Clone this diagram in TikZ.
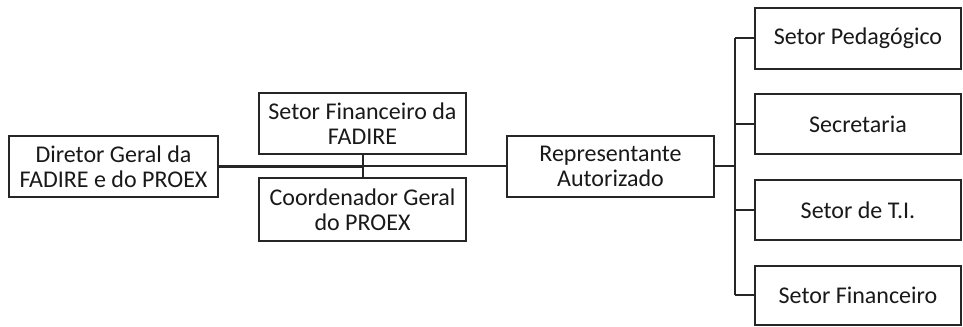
\documentclass[tikz,border=0pt]{standalone}
\usepackage{fontspec}
\setmainfont{Carlito}
\begin{document}
\begin{tikzpicture}[x=0.75pt,y=-0.75pt,
  box/.style={draw=black!85,line width=1.6pt,fill=white,inner sep=0pt,align=center,
    text=black!90,font=\fontsize{18}{19}\selectfont},
  conn/.style={draw=black!85,line width=1.5pt},
  thickconn/.style={draw=black!85,line width=2.6pt}]
\useasboundingbox (0,0) rectangle (963,327);
\node[box,minimum width=209*0.75pt,minimum height=61*0.75pt] (dir) at (113.5,166.5) {Diretor Geral da\\FADIRE e do PROEX};
\node[box,minimum width=207*0.75pt,minimum height=61*0.75pt] (sf) at (362.5,123.5) {Setor Financeiro da\\FADIRE};
\node[box,minimum width=207*0.75pt,minimum height=63*0.75pt] (co) at (362.5,209.5) {Coordenador Geral\\do PROEX};
\node[box,minimum width=207*0.75pt,minimum height=61*0.75pt] (rep) at (610.5,166.5) {Representante\\Autorizado};
\node[box,minimum width=206*0.75pt,minimum height=61*0.75pt] (ped) at (858,38.5) {Setor Pedagógico};
\node[box,minimum width=206*0.75pt,minimum height=60*0.75pt] (sec) at (858,124) {Secretaria};
\node[box,minimum width=206*0.75pt,minimum height=60*0.75pt] (ti) at (858,210) {Setor de T.I.};
\node[box,minimum width=206*0.75pt,minimum height=59*0.75pt] (fin) at (858,295.5) {Setor Financeiro};
\coordinate (jct) at (sf.south |- dir.east);
\coordinate (hub) at (735,166.5);
\coordinate (ttop) at (hub |- ped.west);
\coordinate (tbot) at (hub |- fin.west);
\draw[thickconn] (dir.east) -- (jct);
\draw[conn] (jct) -- (rep.west);
\draw[conn] (sf.south) -- (co.north);
\draw[conn] (rep.east) -- (hub);
\draw[conn] (ttop) -- (tbot);
\draw[conn] (ttop) -- (ped.west);
\draw[conn] (hub |- sec.west) -- (sec.west);
\draw[conn] (hub |- ti.west) -- (ti.west);
\draw[conn] (tbot) -- (fin.west);
\end{tikzpicture}
\end{document}
